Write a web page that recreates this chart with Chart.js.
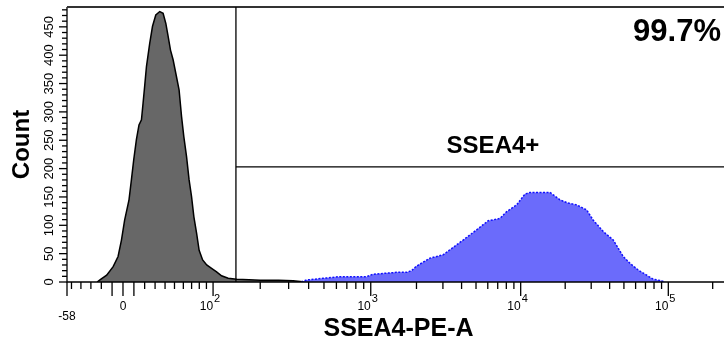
<!DOCTYPE html>
<html><head><meta charset="utf-8">
<script src="https://cdn.jsdelivr.net/npm/chart.js@4.4.1/dist/chart.umd.min.js"></script>
<style>
html,body{margin:0;padding:0;background:#fff;overflow:hidden;}
#wrap{width:724px;height:344px;overflow:hidden;position:relative;}
#c{position:absolute;left:0;top:0;}
</style></head><body>
<div id="wrap"><canvas id="c" width="732" height="344"></canvas></div>
<script>
// ---- data (fluorescence value, count) ----
const controlValues = [-24,-21,-15,-9,-4.5,-1.4,1.5,5.5,7.7,9.8,12.3,14.7,17,18.5,20,21.7,24.8,27.5,30.7,34.6,38,40.8,43.2,45.7,48.5,52.2,55.1,57.9,60.6,63.8,66.9,69.9,72.9,76.4,79.8,84.6,90.4,97.7,105.6,113.9,125.8,142.5,170,200,260,320,380];
const controlCounts = [0,4,12,27,45,74,109,145,180,215,251,277,286,315,345,380,421,451,471,477,474,456,433,409,392,362,339,292,256,221,180,151,115,86,56,39,30,24,18,11,6.5,5,4,3,3,2,0];
const sampleValues = [360,388,492,631,939,1032,1477,1719,1856,2003,2455,3012,3428,4101,4549,5046,6041,7242,8037,9388,10683,11548,15767,18426,20457,23910,27950,30980,36210,42330,49480,54940,62550,71320,79060,90150,95000];
const sampleCounts = [0,3.5,6.5,9.4,9.4,13.6,17,17,20,28,42,48,59,74,83,92,108,112,124,136,155,158,158,145,140,136,127,109,89,74,45,33,21,12,5,2,0];

// ---- axes ----
const xMajorTicks = [-10,0,10,100,1000,10000,100000];
const xMinorTicks = [-50,-40,-30,-20,20,30,40,50,60,70,80,90,200,300,400,500,600,700,800,900,2000,3000,4000,5000,6000,7000,8000,9000,20000,30000,40000,50000,60000,70000,80000,90000,200000];
const xLabelValues = [0,100,1000,10000,100000];
const xLabelBases = ['0','10','10','10','10'];
const xLabelExponents = ['','2','3','4','5'];
const xMinLabel = '-58';
const yLabelValues = [0,50,100,150,200,250,300,350,400,450];
const yMinorStep = 10;
const yMax = 485;
const gateValue = 141;      // SSEA4+ gate start
const gateCount = 203;      // gate bar height
const gateName = 'SSEA4+';
const gatePercent = '99.7%';

// ---- logicle (biexponential) transform ----
function makeLogicle(T, M, W){
  const w = W/M, x1 = w, x0 = 2*w, b = M*Math.LN10;
  let lo = 1e-9, hi = b;
  for (let i=0;i<200;i++){ const m=(lo+hi)/2; if (2*(Math.log(m)-Math.log(b)) + w*(b+m) > 0) hi=m; else lo=m; }
  const d = (lo+hi)/2;
  const ca = Math.exp(x0*(b+d));
  const mfa = Math.exp(b*x1) - ca*Math.exp(-d*x1);
  const a = T/(Math.exp(b) - mfa - ca*Math.exp(-d));
  const c = ca*a, f = -mfa*a;
  function S(x){ return x>=x1 ? a*Math.exp(b*x) - c*Math.exp(-d*x) + f : -S(2*x1 - x); }
  function inv(v){ let l=-1, h=1.6; for (let i=0;i<70;i++){ const m=(l+h)/2; if (S(m) < v) l=m; else h=m; } return (l+h)/2; }
  return {S, inv};
}
const LG = makeLogicle(262144, 4.5, 0.38);
const xMin = LG.S(0), xMax = 262144;

class BiexScale extends Chart.LinearScale {
  buildTicks(){
    this.start = this.min; this.end = this.max;
    const vals = [this.min].concat(xMajorTicks, xMinorTicks).filter(v => v >= this.min && v <= this.max).sort((p,q)=>p-q);
    return vals.map(v => ({value: v}));
  }
  configure(){ super.configure(); this._t0 = LG.inv(this.min); this._t1 = LG.inv(this.max); }
  getPixelForValue(v){ return this.getPixelForDecimal((LG.inv(v)-this._t0)/(this._t1-this._t0)); }
  getValueForPixel(p){ return LG.S(this._t0 + this.getDecimalForPixel(p)*(this._t1-this._t0)); }
}
BiexScale.id = 'biex';
BiexScale.defaults = Chart.LinearScale.defaults;
Chart.register(BiexScale);

const FONT = "'Liberation Sans', Arial, sans-serif";
Chart.defaults.font.family = FONT;
Chart.defaults.color = '#000';

const frame = {
  id: 'frame',
  afterDatasetsDraw(chart){
    const {ctx, chartArea: ca, scales: {x, y}} = chart;
    ctx.save();
    ctx.strokeStyle = '#000';
    ctx.lineWidth = 1.3;
    ctx.beginPath();
    ctx.moveTo(ca.left, ca.top); ctx.lineTo(ca.left, ca.bottom); ctx.lineTo(ca.right, ca.bottom);
    ctx.stroke();
    ctx.strokeStyle = '#333'; ctx.lineWidth = 1.8;
    ctx.beginPath(); ctx.moveTo(ca.left, ca.top); ctx.lineTo(ca.right, ca.top); ctx.stroke();
    ctx.strokeStyle = '#000'; ctx.lineWidth = 1.3;
    for (const t of x.ticks){
      const px = x.getPixelForValue(t.value);
      const major = t.value === x.min || xMajorTicks.includes(t.value);
      ctx.beginPath(); ctx.moveTo(px, ca.bottom); ctx.lineTo(px, ca.bottom + (major ? 14 : 7)); ctx.stroke();
    }
    for (const t of y.ticks){
      const py = y.getPixelForValue(t.value);
      const major = yLabelValues.includes(t.value);
      ctx.beginPath(); ctx.moveTo(ca.left, py); ctx.lineTo(ca.left - (major ? 8 : 5), py); ctx.stroke();
    }
    // exponents of the decade labels
    ctx.fillStyle = '#000';
    ctx.font = '11px ' + FONT;
    ctx.textAlign = 'left'; ctx.textBaseline = 'middle';
    xLabelValues.forEach((v, i) => {
      if (xLabelExponents[i]) ctx.fillText(xLabelExponents[i], x.getPixelForValue(v) + 1, ca.bottom + 17);
    });
    // gate
    const gx = x.getPixelForValue(gateValue), gy = y.getPixelForValue(gateCount);
    ctx.lineWidth = 1.3;
    ctx.beginPath(); ctx.moveTo(gx, ca.top); ctx.lineTo(gx, ca.bottom); ctx.stroke();
    ctx.beginPath(); ctx.moveTo(gx, gy); ctx.lineTo(ca.right, gy); ctx.stroke();
    ctx.font = 'bold 24px ' + FONT;
    ctx.textAlign = 'center'; ctx.textBaseline = 'middle';
    ctx.fillText(gateName, (gx + ca.right)/2 + 10, gy - 21);
    ctx.font = 'bold 31px ' + FONT;
    ctx.textAlign = 'right';
    ctx.fillText(gatePercent, ca.right - 9, ca.top + 25);
    ctx.restore();
  }
};

new Chart(document.getElementById('c'), {
  type: 'line',
  data: {
    datasets: [
      { label: 'SSEA4', data: sampleValues.map((v,i)=>({x:v, y:sampleCounts[i]})),
        borderColor: '#1010ff', borderWidth: 1.5, borderDash: [2,1.5], backgroundColor: '#6b6bfb',
        fill: 'origin', pointRadius: 0, tension: 0 },
      { label: 'Control', data: controlValues.map((v,i)=>({x:v, y:controlCounts[i]})),
        borderColor: '#000', borderWidth: 1.5, backgroundColor: '#676767',
        fill: 'origin', pointRadius: 0, tension: 0 }
    ]
  },
  options: {
    responsive: false, animation: false, devicePixelRatio: 1,
    layout: { padding: { top: 7, right: 2, left: 0, bottom: 0 } },
    plugins: { legend: { display: false }, tooltip: { enabled: false } },
    scales: {
      x: {
        type: 'biex', min: xMin, max: xMax,
        grid: { display: false, drawTicks: false }, border: { display: false },
        ticks: { autoSkip: false, maxRotation: 0, minRotation: 0, padding: 19.6,
          font: { size: 12, lineHeight: 0.85 }, color: '#000',
          callback: function(v){
            if (v === this.min) return ['', xMinLabel];
            const i = xLabelValues.indexOf(v);
            if (i < 0) return '';
            return xLabelExponents[i] ? xLabelBases[i] + '    ' : xLabelBases[i];
          } },
        title: { display: true, text: 'SSEA4-PE-A', color: '#000', font: { size: 25, weight: 'bold' }, padding: { top: 0, bottom: 0 } },
        afterFit(s){ s.height = 62; s.paddingLeft = 0; s.paddingRight = 0; }
      },
      y: {
        type: 'linear', min: 0, max: yMax,
        afterBuildTicks(s){ const t=[]; for (let v=0; v<=yMax; v+=yMinorStep) t.push({value:v}); s.ticks = t; },
        grid: { display: false, drawTicks: false }, border: { display: false },
        ticks: { autoSkip: false, minRotation: 90, maxRotation: 90, crossAlign: 'center', padding: 7,
          font: { size: 13 }, color: '#000',
          callback: v => yLabelValues.includes(v) ? String(v) : '' },
        title: { display: true, text: 'Count', color: '#000', font: { size: 24, weight: 'bold' }, padding: { top: 8, bottom: 0 } },
        afterFit(s){ s.width = 67; s.paddingTop = 0; s.paddingBottom = 0; }
      }
    }
  },
  plugins: [frame]
});
</script>
</body></html>
